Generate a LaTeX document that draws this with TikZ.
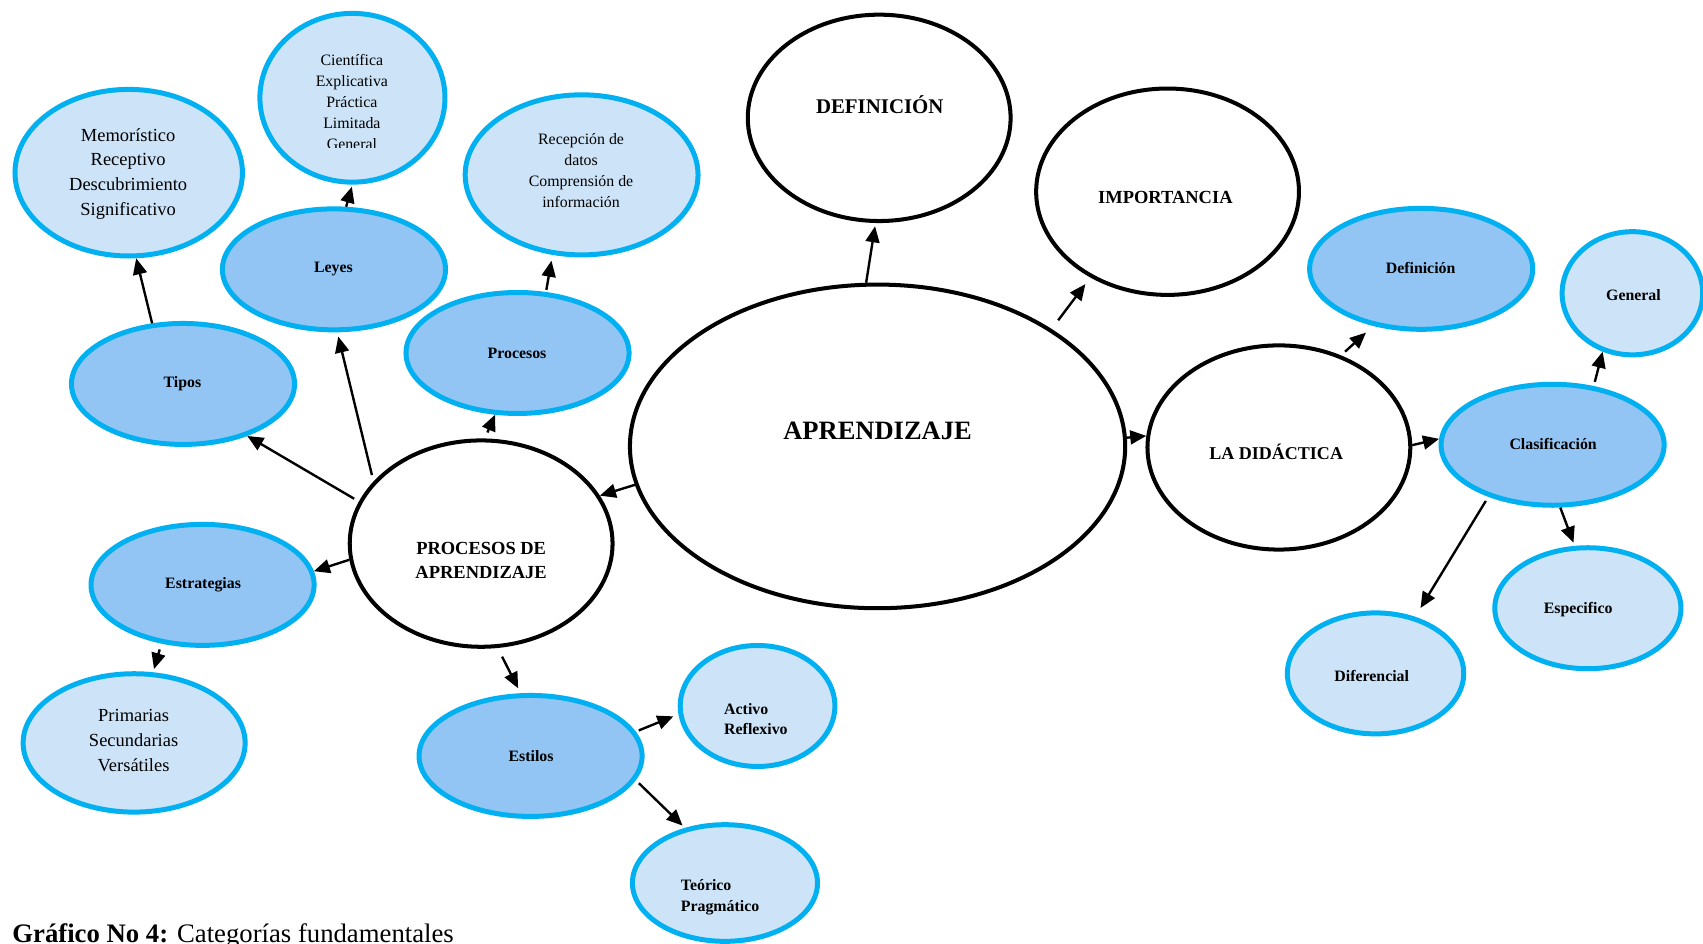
\documentclass[tikz,border=0pt]{standalone}
\usepackage{fontspec}
\setmainfont{Liberation Serif}
\usetikzlibrary{shapes.geometric,arrows.meta}
\definecolor{ringblue}{HTML}{00B0F0}
\definecolor{palefill}{HTML}{CDE4F8}
\definecolor{midfill}{HTML}{93C5F4}
\begin{document}
\begin{tikzpicture}[x=0.5pt,y=-0.5pt,
  core/.style={ellipse, draw=black, line width=1.85pt, fill=white, inner sep=0pt},
  leaf/.style={ellipse, draw=ringblue, line width=2.3pt, fill=palefill, inner sep=0pt},
  branch/.style={leaf, fill=midfill},
  arr/.style={-{Triangle[length=7.4pt,width=6.4pt]}, line width=1.1pt},
  lbl/.style={font=\fontsize{7.3}{9.5}\selectfont\bfseries, align=center, inner sep=0pt},
  listtxt/.style={font=\fontsize{8.5}{11.4}\selectfont, align=center, inner sep=0pt},
  smalltxt/.style={font=\fontsize{7.3}{9.7}\selectfont, align=center, inner sep=0pt},
  headtxt/.style={font=\fontsize{#1}{11}\selectfont\bfseries, align=center, inner sep=0pt}]
\clip (0,0) rectangle (1568,869);
\useasboundingbox (0,0) rectangle (1568,869);

% central concepts
\node[core, minimum width=228pt, minimum height=149pt] (apr) at (808,411) {};
\node[core, minimum width=121pt, minimum height=95pt] (def) at (809.5,108.5) {};
\node[core, minimum width=121pt, minimum height=95pt] (imp) at (1075,176.5) {};
\node[core, minimum width=121pt, minimum height=94pt] (did) at (1177.5,412) {};
\node[core, minimum width=121pt, minimum height=95pt] (pda) at (443,500.5) {};

% second level
\node[branch, minimum width=102.7pt, minimum height=55.7pt] (tipos) at (168.5,353.5) {};
\node[branch, minimum width=102.7pt, minimum height=55.7pt] (leyes) at (307.5,248) {};
\node[branch, minimum width=102.7pt, minimum height=55.7pt] (proc) at (476.5,325) {};
\node[branch, minimum width=102.7pt, minimum height=55.7pt] (estr) at (186.5,538.5) {};
\node[branch, minimum width=102.7pt, minimum height=55.7pt] (estilos) at (488.5,696) {};
\node[branch, minimum width=102.7pt, minimum height=55.7pt] (def2) at (1308.5,247.5) {};
\node[branch, minimum width=102.7pt, minimum height=55.7pt] (clas) at (1429.5,409.5) {};

% third level
\node[leaf, minimum width=104.7pt, minimum height=76.7pt] (mem) at (118.5,159) {};
\node[leaf, minimum width=85.2pt, minimum height=77.7pt] (cient) at (324.5,90) {};
\node[leaf, minimum width=107.2pt, minimum height=73.7pt] (recep) at (535.5,161) {};
\node[leaf, minimum width=102.2pt, minimum height=63.7pt] (prim) at (123.5,684) {};
\node[leaf, minimum width=71.2pt, minimum height=55.7pt] (activo) at (697.5,650) {};
\node[leaf, minimum width=85.2pt, minimum height=53.7pt] (teor) at (667.5,813) {};
\node[leaf, minimum width=64.7pt, minimum height=56.7pt] (gen) at (1503,270) {};
\node[leaf, minimum width=85.7pt, minimum height=55.7pt] (esp) at (1462,560) {};
\node[leaf, minimum width=81.2pt, minimum height=55.7pt] (dif) at (1266.5,620) {};

% connectors
\draw[arr, shorten >=1.5pt] (apr.94) -- (def.268);
\draw[arr, shorten <=5pt, shorten >=3.8pt] (apr.34.6) -- (imp.228);
\draw[arr] (apr.2.2) -- (did.175.3);
\draw[arr] (apr.189) -- (pda.22);
\draw[arr, shorten <=2.5pt] (pda.161) -- (tipos.321);
\draw[arr, shorten <=3pt, shorten >=2pt] (pda.150.3) -- (leyes.273);
\draw[arr, shorten <=3pt] (pda.88) -- (proc.250);
\draw[arr] (pda.187) -- (estr.7.5);
\draw[arr, shorten <=4.5pt, shorten >=2.5pt] (pda.279) -- (estilos.99);
\draw[arr] (tipos.117.8) -- (mem.275.8);
\draw[arr, shorten >=1pt] (leyes.79.6) -- (cient.270);
\draw[arr, shorten <=1pt, shorten >=2.7pt] (proc.65) -- (recep.250.5);
\draw[arr, shorten <=2.8pt, shorten >=1.5pt] (estr.235.9) -- (prim.75.2);
\draw[arr, shorten <=1.5pt, shorten >=2.5pt] (estilos.13) -- (activo.186.6);
\draw[arr, shorten <=2pt, shorten >=1.5pt] (estilos.347.8) -- (teor.126);
\draw[arr, shorten <=2.5pt, shorten >=4.5pt] (did.56) -- (def2.230.8);
\draw[arr] (did.1) -- (clas.177);
\draw[arr, shorten <=2pt] (clas.55.4) -- (gen.243.9);
\draw[arr, shorten >=1.5pt] (clas.277.7) -- (esp.102);
\draw[arr, shorten <=2.2pt, shorten >=4.7pt] (clas.219.4) -- (dif.55);

% texts
\node[headtxt=12.2] (t-apr) at (808,397) {APRENDIZAJE};
\node[headtxt=9.6] (t-def) at (810,96) {DEFINICIÓN};
\node[headtxt=8.5] (t-imp) at (1073,182) {IMPORTANCIA};
\node[headtxt=8.3] (t-did) at (1175,416) {LA DIDÁCTICA};
\node[headtxt=8.5] (t-pda) at (443,516) {PROCESOS DE\\APRENDIZAJE};

\node[lbl] (t-tipos) at (168,353) {Tipos};
\node[lbl] (t-leyes) at (307,248) {Leyes};
\node[lbl] (t-proc) at (476,325) {Procesos};
\node[lbl] (t-estr) at (187,538) {Estrategias};
\node[lbl] (t-estilos) at (489,696) {Estilos};
\node[lbl] (t-def2) at (1308,247) {Definición};
\node[lbl] (t-gen) at (1504,272) {General};
\node[lbl] (t-clas) at (1430,409) {Clasificación};
\node[lbl] (t-esp) at (1453,561) {Especifico};
\node[lbl] (t-dif) at (1263,622) {Diferencial};
\node[lbl, align=left] (t-activo) at (696,662) {Activo\\Reflexivo};
\node[lbl, align=left] (t-teor) at (663,826) {Teórico\\Pragmático};

\node[listtxt] (t-mem) at (118,160) {Memorístico\\Receptivo\\Descubrimiento\\Significativo};
\node[listtxt] (t-prim) at (123,682) {Primarias\\Secundarias\\Versátiles};
\node[smalltxt] (t-recep) at (535,157) {Recepción de\\datos\\Comprensión de\\información};
\begin{scope}
  \clip (240,40) rectangle (410,136);
  \node[smalltxt] (t-cient) at (324,94) {Científica\\Explicativa\\Práctica\\Limitada\\General};
\end{scope}

% caption
\node[anchor=base west, inner sep=0pt, font=\fontsize{12.3}{14}\selectfont] (caption) at (11,868)
  {\textbf{Gráfico No 4:} Categorías fundamentales};
\end{tikzpicture}
\end{document}
